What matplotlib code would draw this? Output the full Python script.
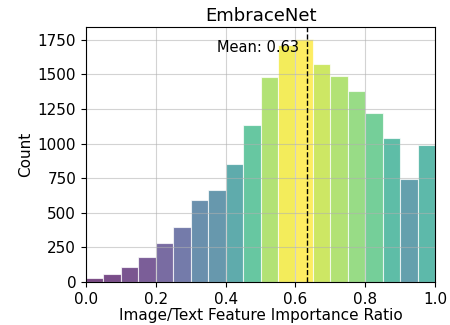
import matplotlib
matplotlib.use('Agg')
import matplotlib.pyplot as plt
import numpy as np

# bin edges and counts
binEdges = np.linspace(0, 1, 21)
counts = [26, 60, 108, 178, 281, 398, 590, 665, 855, 1138,
          1483, 1710, 1757, 1577, 1486, 1380, 1224, 1039, 744, 987]
meanRatio = 0.634

fig = plt.figure(figsize=(4.5, 3.25), dpi=100)
ax = fig.add_axes([0.191, 0.132, 0.776, 0.786])

norm = plt.Normalize(min(counts), max(counts))
colors = plt.cm.viridis(norm(np.array(counts)))
ax.bar(binEdges[:-1], counts, width=np.diff(binEdges), align='edge',
       color=colors, alpha=0.72, edgecolor='white', linewidth=0.8)

ax.axvline(meanRatio, color='k', linestyle='--', linewidth=1)
ax.text(meanRatio - 0.025, 1695, 'Mean: %.2f' % meanRatio, ha='right', va='center', fontsize=10.5)

ax.set_xlim(0, 1)
ax.set_ylim(0, max(counts) * 1.05)
ax.set_xticks([0.0, 0.2, 0.4, 0.6, 0.8, 1.0])
ax.set_yticks([0, 250, 500, 750, 1000, 1250, 1500, 1750])
ax.grid(True, alpha=0.55)
ax.tick_params(labelsize=11)

ax.set_xlabel('Image/Text Feature Importance Ratio', fontsize=11, labelpad=1)
ax.set_ylabel('Count', fontsize=11, labelpad=3)
ax.set_title('EmbraceNet', fontsize=13, pad=4)

fig.savefig('out.png', dpi=100)
